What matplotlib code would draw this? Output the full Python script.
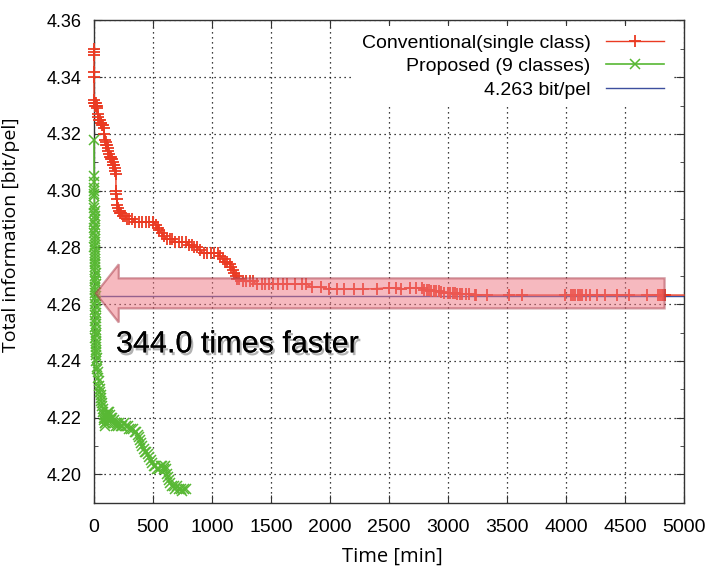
import matplotlib
matplotlib.use("Agg")
import matplotlib.pyplot as plt
import matplotlib.patheffects as pe
from matplotlib.patches import FancyArrow
from matplotlib.ticker import MultipleLocator

# conventional search (single class): elapsed time [min] vs total information [bit/pel]
conv_time = [0, 0, 0, 0, 0, 0,
             3, 6, 10, 14, 18, 22, 26,
             32, 38, 44, 50, 56, 62, 70, 78, 85,
             88, 92, 98, 104, 110, 116, 122, 128, 134, 140, 146, 152, 158, 164, 170, 176, 182, 186,
             186, 188, 192, 196, 202, 210, 220, 232, 246, 262, 280, 300, 325, 350, 380, 410, 440, 470,
             500, 525, 540, 555, 575, 595, 615, 640, 665, 690, 720, 750, 780, 805, 830, 850, 870, 900,
             930, 960, 990, 1020, 1050, 1070, 1090, 1110, 1130, 1150, 1165, 1180, 1190, 1200, 1210,
             1230, 1260, 1290, 1320, 1350, 1380, 1420, 1450, 1480, 1520, 1560, 1600, 1640, 1700, 1760,
             1800, 1850, 1920, 1990, 2060, 2120, 2200, 2280, 2400, 2500, 2560, 2600, 2680, 2730, 2780,
             2800, 2820, 2840, 2860, 2880, 2900, 2920, 2940, 2970, 3000, 3020, 3040, 3060, 3080, 3100,
             3120, 3150, 3175, 3230, 3240, 3330, 3520, 3630, 3990, 4040, 4060, 4080, 4100, 4120, 4140,
             4170, 4200, 4260, 4330, 4430, 4530, 4690, 4780, 4795, 4810, 4825, 4836, 5000]
conv_bits = [4.350, 4.349, 4.348, 4.342, 4.340, 4.332,
             4.331, 4.331, 4.330, 4.331, 4.330, 4.330, 4.329,
             4.327, 4.326, 4.325, 4.325, 4.324, 4.324, 4.323, 4.323, 4.322,
             4.320, 4.318, 4.317, 4.316, 4.316, 4.315, 4.314, 4.313, 4.312, 4.312, 4.311, 4.311, 4.310,
             4.309, 4.309, 4.308, 4.307, 4.306,
             4.300, 4.299, 4.297, 4.295, 4.294, 4.293, 4.292, 4.292, 4.291, 4.291, 4.290, 4.290, 4.290,
             4.289, 4.289, 4.289, 4.289, 4.289,
             4.289, 4.288, 4.287, 4.286, 4.285, 4.284, 4.283, 4.283, 4.283, 4.282, 4.282, 4.282, 4.282,
             4.281, 4.281, 4.280, 4.280, 4.279,
             4.278, 4.278, 4.278, 4.278, 4.278, 4.277, 4.276, 4.275, 4.275, 4.274, 4.273, 4.272, 4.271,
             4.270, 4.269,
             4.269, 4.268, 4.268, 4.268, 4.268, 4.267, 4.267, 4.267, 4.267, 4.267, 4.267, 4.267, 4.267,
             4.267, 4.267,
             4.267, 4.266, 4.266, 4.2653, 4.2653, 4.2653, 4.2653, 4.2653, 4.2655, 4.2658, 4.2658, 4.2652,
             4.2658, 4.2658, 4.2656,
             4.2649, 4.2649, 4.2649, 4.2648, 4.2648, 4.2646, 4.2645, 4.2643, 4.2641, 4.2640, 4.2639,
             4.2638, 4.2638, 4.2637, 4.2637,
             4.2636, 4.2635, 4.2635, 4.2634, 4.2634, 4.2632, 4.2632, 4.2632, 4.2632, 4.2632, 4.2632,
             4.2632, 4.2632, 4.2632, 4.2632,
             4.2632, 4.2632, 4.2632, 4.2632, 4.2632, 4.2632, 4.2632, 4.2632, 4.2632, 4.2632, 4.2632,
             4.2632, 4.2632]

# proposed search (9 classes)
prop_time = [0, 1, 1, 2, 1, 3, 2,
             4, 2, 6, 3, 8, 5, 2, 7, 4, 9, 3, 6, 10, 5, 8, 4, 11, 6, 9, 5, 12, 7, 10, 6, 13, 8, 11,
             7, 14, 9, 12, 8, 15, 10, 13, 9, 16, 11, 14, 10, 17, 12, 15, 11, 18, 13, 16, 12, 19, 14,
             17, 15, 20, 18, 22, 20,
             25, 28, 32, 36, 40, 44, 48, 52, 56, 60, 63, 66, 70, 74, 78, 82, 85, 88, 90, 92, 96, 100,
             105, 110, 116, 122, 128, 134, 140, 146, 152, 160, 168, 176, 185, 195, 205, 215, 228, 240,
             255, 270, 285, 300, 315, 330, 345, 360, 372, 382, 392, 400, 410, 420, 432, 445, 458, 470,
             482, 495, 508, 520, 535, 550, 565, 580, 595, 605, 612, 618, 625, 635, 648, 660, 675, 690,
             705, 720, 735, 750, 765, 780]
prop_bits = [4.318, 4.305, 4.303, 4.301, 4.300, 4.299, 4.298,
             4.295, 4.294, 4.293, 4.292, 4.291, 4.290, 4.289, 4.288, 4.287, 4.286, 4.285, 4.284, 4.283,
             4.282, 4.281, 4.280, 4.279, 4.278, 4.277, 4.276, 4.275, 4.274, 4.273, 4.272, 4.271, 4.270,
             4.269, 4.268, 4.267, 4.266, 4.265, 4.264, 4.263, 4.262, 4.261, 4.260, 4.259, 4.258, 4.257,
             4.256, 4.255, 4.254, 4.253, 4.252, 4.251, 4.250, 4.249, 4.248, 4.247, 4.246, 4.245, 4.244,
             4.243, 4.242, 4.241, 4.240,
             4.238, 4.237, 4.236, 4.234, 4.233, 4.231, 4.230, 4.229, 4.228, 4.227, 4.226, 4.225, 4.224,
             4.223, 4.222, 4.221, 4.220, 4.219, 4.218, 4.217, 4.218, 4.220,
             4.221, 4.220, 4.222, 4.221, 4.222, 4.221, 4.220, 4.219, 4.220, 4.218, 4.219, 4.218, 4.217,
             4.218, 4.217, 4.218, 4.217, 4.217,
             4.218, 4.217, 4.217, 4.216, 4.216, 4.216, 4.215, 4.215, 4.214, 4.213, 4.212, 4.211, 4.210,
             4.209, 4.208, 4.208, 4.207, 4.206,
             4.205, 4.204, 4.203, 4.203, 4.202, 4.202, 4.203, 4.203, 4.202, 4.203, 4.202, 4.200, 4.199,
             4.198, 4.197, 4.196, 4.196, 4.195,
             4.196, 4.195, 4.195, 4.194, 4.195, 4.195]

target_bits = 4.263
speedup = 344.0

x_ticks = [0, 500, 1000, 1500, 2000, 2500, 3000, 3500, 4000, 4500, 5000]
y_ticks = [4.20, 4.22, 4.24, 4.26, 4.28, 4.30, 4.32, 4.34, 4.36]

red = "#ea3a22"
green = "#58b834"
blue = "#3d4f9e"

fig = plt.figure(figsize=(7.23, 5.69), dpi=100)
ax = fig.add_axes([0.130, 0.1165, 0.816, 0.8475])

# markers at t=0 sit on the left spine, so don't clip them
ax.plot(conv_time, conv_bits, color=red, lw=1.0, marker="+", ms=9, mew=1.3,
        markevery=slice(0, len(conv_time) - 1), clip_on=False, zorder=3,
        label="Conventional(single class)")
ax.plot(prop_time, prop_bits, color=green, lw=1.2, marker="x", ms=6.5, mew=1.1, clip_on=False, zorder=3,
        label="Proposed (9 classes)")
ax.axhline(target_bits, color=blue, lw=1.0, label="4.263 bit/pel")

ax.set_xlim(0, 5000)
ax.set_ylim(4.19, 4.36)
ax.set_xticks(x_ticks)
ax.set_yticks(y_ticks)
ax.yaxis.set_minor_locator(MultipleLocator(0.01))
ax.set_yticklabels(["%.2f" % v for v in y_ticks], family=["Liberation Sans", "DejaVu Sans"], fontsize=13)
ax.set_xticklabels([str(v) for v in x_ticks],
                   family=["Liberation Sans Narrow", "Liberation Sans", "DejaVu Sans"], fontsize=14)
ax.tick_params(which="both", direction="in", top=True, right=True, colors="#333333", labelcolor="black")
ax.tick_params(which="major", length=6)
ax.tick_params(which="minor", length=3)
ax.tick_params(axis="y", pad=9)
ax.tick_params(axis="x", pad=12)
ax.grid(True, which="major", color="black", lw=0.9, linestyle=(0, (1, 3)))
for s in ax.spines.values():
    s.set_color("#333333")
    s.set_linewidth(1.0)

leg = ax.legend(loc="upper right", bbox_to_anchor=(0.99, 1.0), markerfirst=False, frameon=True,
                fancybox=False, edgecolor="none", facecolor="white", framealpha=1.0,
                handlelength=3.0, labelspacing=0.3, borderaxespad=0.3,
                prop={"family": ["Liberation Sans", "DejaVu Sans"], "size": 14})
leg.set_zorder(4)
for t in leg.get_texts():
    t.set_ha("right")
leg._legend_box.align = "right"

# big arrow pointing back to where the proposed method reaches the target
arrow = FancyArrow(4836, 4.2638, -4821, 0, width=0.0106, head_width=0.0205, head_length=195,
                   length_includes_head=True, facecolor="#ee7480", edgecolor="#a83a48",
                   alpha=0.5, lw=1.6, zorder=5)
ax.add_patch(arrow)

ax.text(186, 4.243, "%.1f times faster" % speedup, fontsize=22, va="baseline", ha="left",
        family=["Liberation Sans", "DejaVu Sans"], zorder=6,
        path_effects=[pe.withSimplePatchShadow(offset=(1.5, -2), shadow_rgbFace="#555555", alpha=0.45),
                      pe.Normal()])

fig.text(11 / 723, 1 - 235 / 569, "Total information [bit/pel]", rotation=90, ha="center", va="center",
         fontsize=14, family=["Open Sans", "DejaVu Sans"])
fig.text(392 / 723, 1 - 557 / 569, "Time [min]", ha="center", va="center",
         fontsize=14.5, family=["Open Sans", "DejaVu Sans"])

fig.savefig("out.png", dpi=100)
